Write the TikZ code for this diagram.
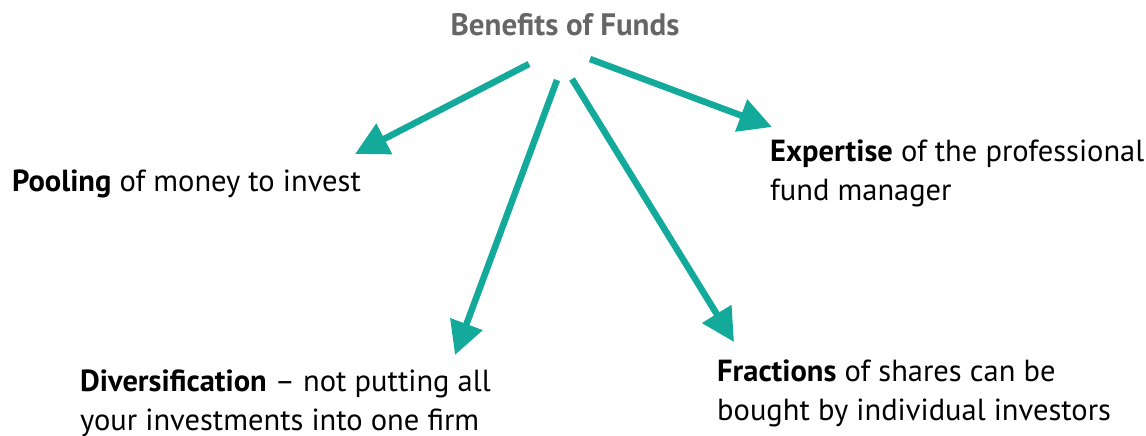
\documentclass[tikz,border=0pt]{standalone}
\usepackage{fontspec}
\setmainfont{PT Sans}
\usetikzlibrary{arrows.meta}
\definecolor{teal1}{HTML}{14AA9B}
\definecolor{titlegray}{HTML}{666666}
\tikzset{
  benefit/.style={anchor=base west, inner sep=0pt, align=left, font=\fontsize{30.5}{39}\selectfont, text=black},
  titletext/.style={inner sep=0pt, font=\fontsize{31}{34}\selectfont\bfseries, text=titlegray},
  fundarrow/.style={draw=teal1, line width=6.5pt, -{Triangle[length=33pt,width=33pt]}}
}
\begin{document}
\begin{tikzpicture}[x=1pt,y=-1pt]
\useasboundingbox (0,0) rectangle (1146,436);
\node[titletext, anchor=base] (title) at (565,36) {Benefits of Funds};
\node[benefit] (pool) at (12,191) {\textbf{Pooling} of money to invest};
\node[benefit] (expert) at (770,200) {\textbf{Expertise} of the professional\\fund manager};
\node[benefit] (divers) at (80,430) {\textbf{Diversification} -- not putting all\\your investments into one firm};
\node[benefit] (frac) at (717,420) {\textbf{Fractions} of shares can be\\bought by individual investors};
\coordinate (s1) at (529,64);
\coordinate (s2) at (557,80);
\coordinate (s3) at (572,79);
\coordinate (s4) at (590,59);
\coordinate (e1) at (355,154);
\coordinate (e2) at (455,355);
\coordinate (e3) at (734,342);
\coordinate (e4) at (772,127);
\draw[fundarrow] (s1) -- (e1);
\draw[fundarrow] (s2) -- (e2);
\draw[fundarrow] (s3) -- (e3);
\draw[fundarrow] (s4) -- (e4);
\end{tikzpicture}
\end{document}
